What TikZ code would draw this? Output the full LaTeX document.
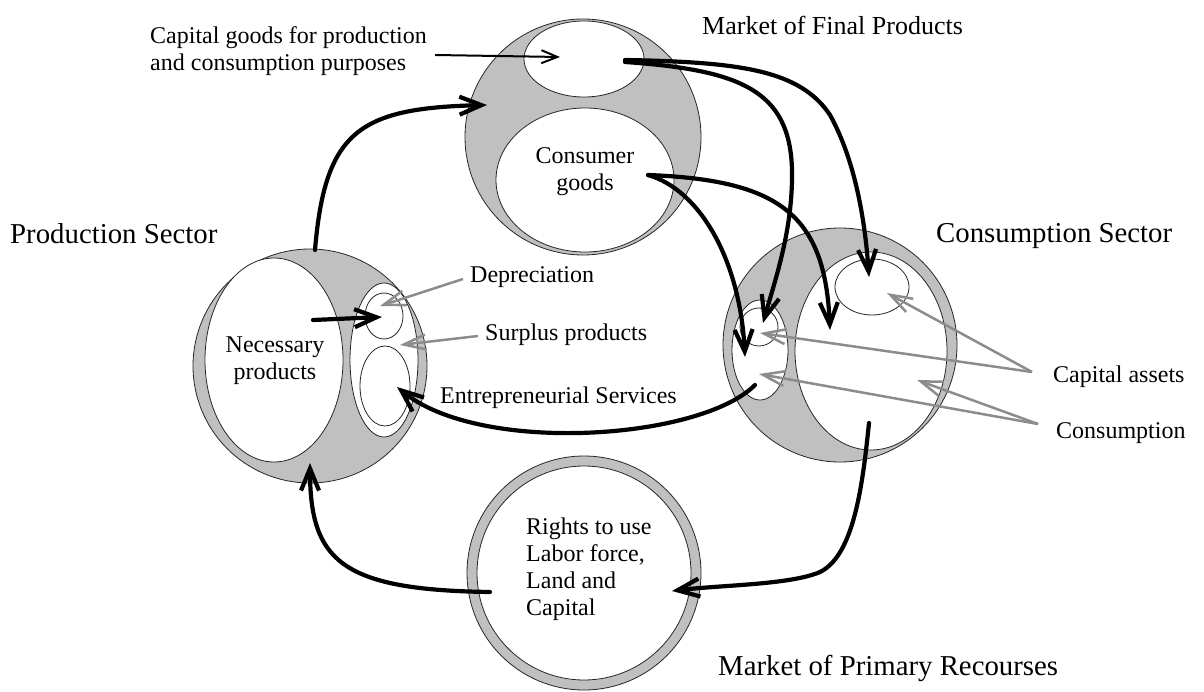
\documentclass[tikz,border=0pt]{standalone}
\usepackage{fontspec}
\setmainfont{Liberation Serif}
\usetikzlibrary{arrows.meta,shapes.geometric}
\definecolor{ringgray}{HTML}{C0C0C0}
\definecolor{ptrgray}{HTML}{8C8C8C}
\begin{document}
\begin{tikzpicture}[x=1pt,y=-1pt,
  disc/.style={circle,draw=black!85,line width=0.8pt,fill=ringgray,inner sep=0pt,outer sep=0pt},
  hole/.style={ellipse,draw=black!85,line width=0.8pt,fill=white,inner sep=0pt,outer sep=0pt},
  flow/.style={line width=4.2pt,line cap=round,-{Straight Barb[length=22pt,width=18pt]}},
  thinflow/.style={line width=2pt,-{Straight Barb[length=16pt,width=13pt]}},
  pointer/.style={draw=ptrgray,line width=2.5pt,-{Straight Barb[length=22pt,width=15pt]}},
  lbl/.style={inner sep=0pt,font=\fontsize{24}{27}\selectfont},
  hdr/.style={inner sep=0pt,font=\fontsize{28.8}{32}\selectfont},
]
\useasboundingbox (0,0) rectangle (1204,692);

% ---- Production sector
\node[disc,minimum size=234pt] (prod) at (310,366) {};
\node[hole,minimum width=138pt,minimum height=204pt] (nec) at (274,360) {};
\node[hole,minimum width=68pt,minimum height=154pt] (prodr) at (384,360) {};
\node[hole,minimum width=38pt,minimum height=46pt] (depr) at (384,316) {};
\node[hole,minimum width=50pt,minimum height=80pt] (entr) at (385,386) {};

% ---- Market of final products
\node[disc,minimum size=236pt] (mfp) at (583,137) {};
\node[hole,minimum width=120pt,minimum height=76pt] (capg) at (584,59) {};
\node[hole,minimum width=178pt,minimum height=144pt] (consg) at (585,180) {};

% ---- Consumption sector
\node[disc,minimum size=234pt] (cons) at (840,345) {};
\node[hole,minimum width=152pt,minimum height=198pt] (consbig) at (871,351) {};
\node[hole,minimum width=74pt,minimum height=56pt] (capa) at (872,287) {};
\node[hole,minimum width=56pt,minimum height=100pt] (consl) at (760,350) {};
\node[hole,minimum width=38pt,minimum height=38pt] (consls) at (759,327) {};

% ---- Market of primary resources
\node[disc,minimum size=234pt] (mpr) at (584,573) {};
\node[hole,minimum width=214pt,minimum height=214pt] (mprin) at (584,573) {};

% ---- Texts
\node[lbl,anchor=west,align=left] (tcapg) at (150,51) {Capital goods for production\\and consumption purposes};
\node[inner sep=0pt,font=\fontsize{26}{30}\selectfont,anchor=base west] (tmfp) at (702,35) {Market of Final Products};
\node[hdr,anchor=base west] (tprod) at (10,244) {Production Sector};
\node[hdr,anchor=base west] (tcons) at (936,243) {Consumption Sector};
\node[hdr,anchor=base west] (tmpr) at (718,675) {Market of Primary Recourses};
\node[lbl,anchor=base west] (tdepr) at (470,283) {Depreciation};
\node[lbl,anchor=base west] (tsurp) at (485,341) {Surplus products};
\node[lbl,anchor=base west] (tentr) at (440,403) {Entrepreneurial Services};
\node[lbl,anchor=base west] (tcapa) at (1053,382) {Capital assets};
\node[lbl,anchor=base west] (tcnsm) at (1056,438) {Consumption};
\node[lbl,align=center] (tnec) at (275,361) {Necessary\\products};
\node[lbl,align=center] (tconsg) at (585,172) {Consumer\\goods};
\node[lbl,align=left,anchor=west] (trights) at (526,569) {Rights to use\\Labor force,\\Land and\\Capital};

% ---- connector end points
\coordinate (p1) at (315,250);   \coordinate (p2) at (487,105);
\coordinate (c1) at (435,55);    \coordinate (c2) at (560,57);
\coordinate (a1) at (625,60);    \coordinate (a2) at (869,277);
\coordinate (b1) at (625,62);    \coordinate (b2) at (763,323);
\coordinate (d1) at (648,175);   \coordinate (d2) at (745,357);
\coordinate (e2) at (830,330);
\coordinate (f1) at (755,385);   \coordinate (f2) at (397,387);
\coordinate (g1) at (313,320);   \coordinate (g2) at (382,317);
\coordinate (h1) at (869,423);   \coordinate (h2) at (672,591);
\coordinate (k1) at (490,592);   \coordinate (k2) at (310,463);
\coordinate (q1) at (463,279);   \coordinate (q2) at (380,306);
\coordinate (r1) at (478,336);   \coordinate (r2) at (400,345);
\coordinate (s1) at (1032,372);  \coordinate (s2) at (887,293);  \coordinate (s3) at (760,333);
\coordinate (u1) at (1038,424);  \coordinate (u2) at (917,380);  \coordinate (u3) at (759,374);

% ---- black flows
\draw[flow] (p1) .. controls (325,130) and (360,108) .. (p2);
\draw[thinflow] (c1) -- (c2);
\draw[flow] (a1) .. controls (740,62) and (800,70) .. (830,115) .. controls (855,160) and (865,220) .. (a2);
\draw[flow] (b1) .. controls (740,70) and (790,90) .. (792,170) .. controls (793,230) and (775,280) .. (b2);
\draw[flow] (d1) .. controls (700,190) and (740,260) .. (d2);
\draw[flow] (d1) .. controls (780,180) and (825,215) .. (e2);
\draw[flow] (f1) .. controls (700,440) and (480,455) .. (f2);
\draw[flow] (g1) -- (g2);
\draw[flow] (h1) .. controls (863,480) and (855,555) .. (820,572) .. controls (790,585) and (720,585) .. (h2);
\draw[flow] (k1) .. controls (340,590) and (310,560) .. (k2);

% ---- gray pointers
\draw[pointer] (q1) -- (q2);
\draw[pointer] (r1) -- (r2);
\draw[pointer] (s1) -- (s2);
\draw[pointer] (s1) -- (s3);
\draw[pointer] (u1) -- (u2);
\draw[pointer] (u1) -- (u3);
\end{tikzpicture}
\end{document}
